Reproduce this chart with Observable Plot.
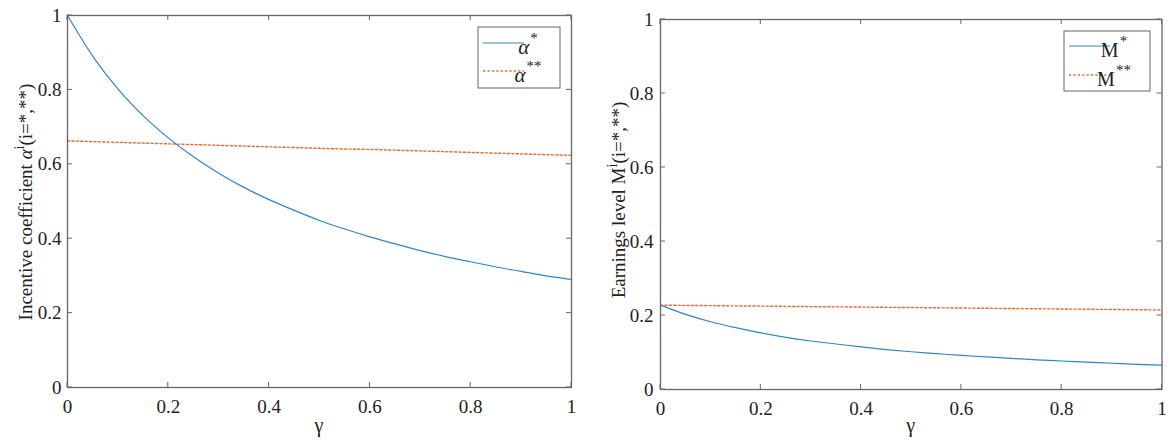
<!DOCTYPE html>
<html><head><meta charset="utf-8">
<script src="https://cdn.jsdelivr.net/npm/d3@7"></script>
<script src="https://cdn.jsdelivr.net/npm/@observablehq/plot@0.6"></script>
<style>
body{margin:0;background:#fff;}
#wrap{position:relative;width:1170px;height:445px;overflow:hidden;background:#fff;}
.panel{position:absolute;top:0;}
svg, svg text {font-family: "Liberation Serif", "Times New Roman", serif !important;}
</style></head><body>
<div id="wrap"><div id="p1" class="panel" style="left:0"></div><div id="p2" class="panel" style="left:585px"></div></div>
<script>
const gamma = [0,0.05,0.1,0.15,0.2,0.25,0.3,0.35,0.4,0.45,0.5,0.55,0.6,0.65,0.7,0.75,0.8,0.85,0.9,0.95,1];
const alphaStar = [1.000,0.891,0.803,0.731,0.671,0.620,0.576,0.538,0.505,0.476,0.449,0.426,0.405,0.386,0.368,0.352,0.338,0.324,0.312,0.300,0.290];
const alphaStarStar = [0.663,0.661,0.659,0.657,0.655,0.653,0.651,0.649,0.647,0.645,0.643,0.641,0.640,0.638,0.636,0.634,0.632,0.630,0.628,0.626,0.624];
const mStar = [0.228,0.203,0.183,0.167,0.153,0.141,0.131,0.123,0.115,0.108,0.102,0.097,0.092,0.088,0.084,0.080,0.077,0.074,0.071,0.068,0.066];
const mStarStar = [0.228,0.2273,0.2267,0.226,0.2254,0.2247,0.224,0.2234,0.2228,0.2221,0.2215,0.2208,0.2202,0.2195,0.2189,0.2182,0.2176,0.2169,0.2163,0.2156,0.215];
const xTicks = [0,0.2,0.4,0.6,0.8,1];
const yTicks = [0,0.2,0.4,0.6,0.8,1];

const BLUE = "#2f86cf", ORANGE = "#e86a36", AXIS = "#666", TXT = "#222";
const FONT = "Liberation Serif";
const DASH = "2.2,2.2";
const fmt = d => String(d);

function panel(el, o) {
  const data = gamma.map((g, i) => ({g, s1: o.s1[i], s2: o.s2[i]}));
  const plot = Plot.plot({
    width: o.width, height: 445,
    marginLeft: o.ml, marginRight: o.mr, marginTop: o.mt, marginBottom: 445 - o.bottom,
    style: {fontFamily: FONT, fontSize: "19px", color: TXT, background: "white"},
    x: {domain: [0, 1], label: null},
    y: {domain: [0, 1], label: null},
    marks: [
      Plot.line(data, {x: "g", y: "s2", stroke: ORANGE, strokeWidth: 1.4, strokeDasharray: DASH, curve: "monotone-x"}),
      Plot.line(data, {x: "g", y: "s1", stroke: BLUE, strokeWidth: 1.2, curve: "monotone-x"}),
      Plot.frame({stroke: AXIS, strokeWidth: 1.3}),
      Plot.axisX(xTicks, {anchor: "bottom", tickSize: 0, tickPadding: 12, tickFormat: fmt, label: null, fill: TXT}),
      Plot.axisY(yTicks, {anchor: "left", tickSize: 0, tickPadding: o.ypad, tickFormat: fmt, label: null, fill: TXT})
    ]
  });
  el.appendChild(plot);
  const svg = d3.select(plot);
  const sx = plot.scale("x"), sy = plot.scale("y");
  const x0 = sx.apply(0), x1 = sx.apply(1), y0 = sy.apply(0), y1 = sy.apply(1);
  const g = svg.append("g").attr("stroke", AXIS).attr("stroke-width", 1);
  const L = 5;
  xTicks.forEach(t => {
    const x = sx.apply(t);
    g.append("line").attr("x1", x).attr("x2", x).attr("y1", y0).attr("y2", y0 - L);
    g.append("line").attr("x1", x).attr("x2", x).attr("y1", y1).attr("y2", y1 + L);
  });
  yTicks.forEach(t => {
    const y = sy.apply(t);
    g.append("line").attr("x1", x0).attr("x2", x0 + L).attr("y1", y).attr("y2", y);
    g.append("line").attr("x1", x1).attr("x2", x1 - L).attr("y1", y).attr("y2", y);
  });
  // x label
  svg.append("text").attr("x", (x0 + x1) / 2).attr("y", 432).attr("text-anchor", "middle")
    .attr("font-size", 20).attr("fill", TXT).text("γ");
  // y label
  const yl = svg.append("text").attr("transform", `translate(${o.ylx},${o.yly}) rotate(-90)`)
    .attr("text-anchor", "middle").attr("font-size", 19).attr("fill", TXT);
  yl.append("tspan").text(o.ylabel);
  yl.append("tspan").attr("font-style", o.symItalic ? "italic" : "normal").text(o.sym);
  yl.append("tspan").attr("dy", -8).attr("font-size", 14).text("i");
  yl.append("tspan").attr("dy", 8).text("(i=*,**)");
  // legend
  const lg = svg.append("g");
  const b = o.legend;
  lg.append("rect").attr("x", b.x).attr("y", b.y).attr("width", b.w).attr("height", b.h)
    .attr("fill", "white").attr("stroke", AXIS).attr("stroke-width", 1);
  const rows = [{y: b.r1, stroke: BLUE, dash: null, sw: 1.2, sup: "*"}, {y: b.r2, stroke: ORANGE, dash: DASH, sw: 1.4, sup: "**"}];
  rows.forEach(r => {
    lg.append("line").attr("x1", b.x + 5).attr("x2", b.x + 46).attr("y1", r.y).attr("y2", r.y)
      .attr("stroke", r.stroke).attr("stroke-width", r.sw).attr("stroke-dasharray", r.dash);
    const t = lg.append("text").attr("x", b.x + 50).attr("y", r.y + b.base)
      .attr("font-size", b.fs).attr("fill", TXT);
    t.append("tspan").attr("font-style", o.symItalic ? "italic" : "normal").text(o.sym);
    t.append("tspan").attr("dy", -11).attr("dx", 1).attr("font-size", 15).text(r.sup);
  });
}

panel(document.getElementById("p1"), {
  width: 585, ml: 67, mr: 14, mt: 15, bottom: 387, ypad: 6,
  s1: alphaStar, s2: alphaStarStar,
  ylx: 32, yly: 202, ylabel: "Incentive coefficient ", sym: "α", symItalic: true,
  legend: {x: 478, y: 27, w: 82, h: 61, r1: 43, r2: 71, base: 11, fs: 21}
});
panel(document.getElementById("p2"), {
  width: 585, ml: 75, mr: 8.5, mt: 19, bottom: 389, ypad: 7,
  s1: mStar, s2: mStarStar,
  ylx: 40, yly: 200, ylabel: "Earnings level ", sym: "M", symItalic: false,
  legend: {x: 479, y: 31, w: 86, h: 60, r1: 46, r2: 75, base: 11, fs: 20}
});
</script>
</body></html>
